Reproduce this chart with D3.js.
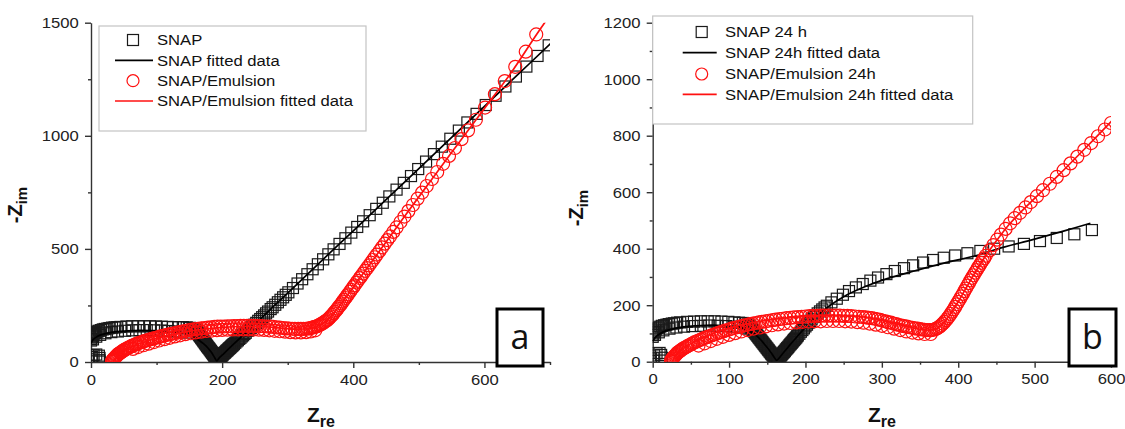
<!DOCTYPE html>
<html>
<head>
<meta charset="utf-8">
<script src="https://cdn.jsdelivr.net/npm/d3@7"></script>
<style>
  body { margin: 0; background: #fff; }
  svg { display: block; }
</style>
</head>
<body>
<div id="chart"></div>
<script>
// ---- data (Zre, -Zim) ----

// panel a
const snapA = [
  // small loop at the origin
  [1,3],[1,12],[2,22],[4,30],[8,33],[12,28],[13,18],[13,8],[13,2],
  // first arc
  [0,95],[0,102],[1,108],[2,114],[3,119],[4,124],[6,128],[8,132],[10,135],[12,138],
  [15,141],[18,144],[21,146],[25,148],[28,150],[32,152],[36,153],[40,154],[45,155],[54,157],
  [63,158],[72,158],[81,158],[90,158],[99,157],[108,156],[117,155],[125,154],[133,154],[140,154],
  [146,153],[151,151],[155,148],[158,144],
  [3,100],[8,112],[14,120],[22,127],[31,132],[41,135],[52,138],[63,140],[74,141],[85,141],
  [96,140],[107,139],[118,137],[128,135],[138,133],[147,130],
  // left arm of the V
  [160,139],[161,135],[162,131],[163,127],[164,123],[165,119],[166,115],[167,111],[168,107],[169,103],
  [170,99],[171,95],[172,91],[173,87],[174,83],[175,79],[176,75],[177,71],[178,67],[179,63],
  [180,60],[181,56],[182,52],[183,48],[184,44],[185,40],[186,36],[187,32],[188,28],[189,24],
  [190,20],[191,16],[192,12],[193,8],[194,4],[195,1],
  // right arm and diffusion tail
  [189,1],[190,3],[191,5],[192,8],[193,11],[194,14],[195,16],[196,19],[197,22],[198,25],
  [199,27],[200,30],[201,33],[202,36],[203,39],[204,41],[205,44],[206,47],[207,50],[208,52],
  [209,55],[210,58],[211,61],[212,63],[213,66],[214,69],[215,72],[216,74],[217,77],[218,80],
  [220,85],[222,91],[224,96],[226,102],[228,107],[230,113],[232,118],[234,124],[236,129],[239,138],
  [241,143],[244,151],[246,157],[249,165],[252,173],[255,182],[258,190],[261,198],[264,206],[267,215],
  [270,223],[274,234],[277,242],[281,253],[285,264],[289,275],[293,286],[297,297],[301,308],[308,327],
  [315,347],[322,366],[330,388],[338,410],[346,432],[354,454],[362,476],[370,498],[379,522],[388,547],
  [397,572],[406,597],[415,622],[425,649],[435,677],[445,704],[455,732],[466,762],[477,792],[488,822],
  [499,853],[511,886],[523,919],[535,952],[548,987],[561,1023],[574,1059],[588,1097],[602,1136],[617,1177],
  [632,1218],[648,1262],[664,1306],[681,1353],[698,1400],[715,1446]
];
const snapFitA = [
  [0,82],[3,98],[8,110],[15,120],[25,128],[38,134],[55,138],[75,140],[95,139],[112,137],
  [126,133],[138,127],[148,119],[157,108],[165,95],[172,80],[178,63],[183,45],[187,27],[190,12],
  [192,5],[195,16],[200,30],[215,72],[240,140],[270,223],[300,305],[350,443],[400,580],[450,718],
  [500,855],[550,993],[600,1130],[650,1268],[700,1405],[710,1433]
];
const emulA = [
  [32,0],[32,3],[33,6],[33,9],[34,12],[35,15],[36,18],[37,21],[38,24],[39,27],
  [40,30],[41,33],[42,36],[44,39],[45,42],[47,45],[48,48],[50,51],[51,54],[53,57],
  [55,60],[57,63],[59,66],[61,69],[63,72],[66,75],[68,78],[70,81],[73,84],[75,86],
  [78,89],[81,92],[84,95],[87,97],[90,100],[93,102],[96,105],[99,107],[103,110],[106,113],
  [110,116],[113,118],[117,121],[121,123],[125,126],[129,128],[133,131],[137,133],[141,136],[145,138],
  [150,141],[154,143],[159,145],[163,147],[168,149],[173,150],[178,152],[183,153],[188,155],[193,156],
  [198,157],[203,157],[208,158],[213,158],[218,159],[223,159],[228,160],[233,160],[238,160],[243,160],
  [248,160],[253,159],[258,159],[263,158],[268,157],[273,156],[278,155],[283,153],[288,152],[293,150],
  [298,149],[302,148],[307,147],[311,146],[316,146],[320,146],[324,146],[328,147],[331,148],[334,149],
  [336,151],[339,153],[341,155],[344,157],[346,160],[348,163],[350,166],[352,169],[354,173],[356,177],
  [358,181],[360,185],[362,190],[364,196],[366,202],[368,208],[370,215],[372,222],[374,229],[376,236],
  [378,244],[380,251],[382,259],[384,267],[386,275],[388,283],[390,291],[392,299],[395,311],[397,319],
  [400,331],[402,339],[405,351],[407,359],[410,371],[412,379],[415,391],[418,403],[421,415],[424,427],
  [427,439],[430,451],[433,463],[436,475],[440,491],[444,507],[448,523],[452,539],[456,555],[461,575],
  [466,595],[472,619],[478,643],[484,667],[491,694],[498,722],[505,749],[512,778],[520,809],[528,840],
  [537,876],[546,911],[555,946],[565,985],[575,1024],[587,1071],[601,1125],[616,1184],[631,1242],[647,1305],
  [663,1372],[679,1448],
  // lower row of the plateau
  [64,58],[72,66],[80,74],[88,81],[96,88],[104,95],[112,101],[120,107],[128,113],[136,118],
  [144,123],[152,127],[160,131],[168,134],[176,137],[184,139],[192,141],[200,142],[208,143],[216,144],
  [224,144],[232,144],[240,144],[248,144],[256,143],[264,142],[272,140],[280,138],[288,136],[296,134],
  [304,132],[312,131],[320,131],[328,132],[335,135],[342,140]
];
const emulFitA = [
  [34,0],[38,22],[44,40],[52,55],[62,68],[75,82],[90,96],[108,110],[128,124],[150,136],
  [175,146],[200,153],[230,157],[260,156],[290,150],[315,145],[330,147],[342,155],[352,168],[362,190],
  [375,233],[390,291],[400,331],[420,411],[440,491],[470,611],[500,730],[535,868],[565,985],[600,1121],
  [640,1276],[680,1450],[710,1575]
];

// panel b
const snapB = [
  [1,3],[1,12],[2,22],[5,30],[9,31],[11,24],[12,14],[12,4],
  [0,88],[0,94],[1,100],[2,105],[3,110],[4,114],[6,118],[8,121],[10,124],[12,127],
  [15,129],[18,131],[21,133],[25,135],[28,136],[32,138],[36,139],[45,141],[54,142],[63,143],
  [72,143],[81,143],[90,142],[99,141],[107,139],[113,138],[118,137],[122,136],[125,132],
  [3,95],[8,104],[14,111],[22,117],[31,121],[41,124],[52,126],[63,127],[74,128],[85,127],
  [96,126],[106,124],[115,121],[123,117],
  [127,127],[128,124],[129,120],[130,117],[131,113],[132,110],[133,106],[134,103],[135,99],[136,96],
  [137,92],[138,89],[139,85],[140,82],[141,78],[142,75],[143,71],[144,68],[145,64],[146,61],
  [147,57],[148,54],[149,50],[150,47],[151,43],[152,40],[153,36],[154,33],[155,29],[156,26],
  [157,22],[158,19],[159,15],[160,12],[161,8],[162,5],[163,1],
  [161,1],[162,3],[163,6],[164,10],[165,13],[166,16],[167,19],[168,22],[169,26],[170,29],
  [171,32],[172,35],[173,38],[174,42],[175,45],[176,48],[177,51],[178,54],[179,58],[180,61],
  [181,64],[182,67],[183,70],[184,74],[185,77],[186,80],[187,83],[188,86],[189,90],[190,93],
  [192,99],[194,106],[196,112],[198,118],[200,125],[202,131],[204,138],[206,144],[208,150],[211,158],
  [213,163],[216,171],[219,178],[222,185],[225,192],[228,198],[234,210],[241,223],[249,237],[257,250],
  [266,263],[275,275],[285,287],[295,298],[306,310],[317,321],[329,331],[341,341],[354,351],[367,360],
  [381,368],[396,376],[412,384],[429,392],[447,400],[466,408],[486,417],[507,427],[529,438],[552,451],
  [575,466]
];
const snapFitB = [
  [0,72],[4,88],[10,100],[18,110],[28,117],[40,123],[55,127],[70,129],[85,129],[100,127],
  [112,123],[122,115],[130,103],[137,90],[143,73],[149,53],[155,32],[159,16],[162,5],[164,8],
  [170,28],[178,54],[190,92],[202,128],[215,162],[230,195],[254,236],[280,268],[300,288],[341,320],
  [380,348],[424,376],[450,398],[500,434],[540,464],[573,490]
];
const emulB = [
  [24,0],[24,3],[25,6],[25,9],[26,12],[27,15],[28,18],[29,21],[30,24],[31,27],
  [32,30],[33,33],[35,36],[36,39],[38,42],[39,45],[41,48],[43,51],[45,54],[47,57],
  [49,60],[51,63],[53,66],[55,69],[58,72],[60,75],[63,78],[65,81],[68,84],[71,87],
  [74,90],[77,93],[80,96],[83,99],[86,102],[89,105],[93,108],[96,111],[100,114],[103,117],
  [107,120],[111,122],[115,125],[119,128],[123,130],[127,133],[131,135],[135,137],[139,139],[143,141],
  [148,143],[152,145],[157,147],[161,149],[166,151],[170,152],[175,154],[180,155],[185,157],[190,158],
  [195,159],[200,160],[205,161],[210,162],[215,162],[220,163],[225,163],[230,163],[235,163],[240,163],
  [245,163],[250,162],[255,162],[260,161],[265,160],[270,159],[275,158],[279,157],[283,155],[287,154],
  [291,152],[294,150],[298,148],[301,145],[305,143],[308,140],[312,138],[315,135],[319,133],[322,130],
  [326,128],[329,126],[333,124],[336,122],[340,120],[343,118],[347,117],[350,115],[353,114],[356,113],
  [359,112],[362,112],[365,112],[367,113],[370,115],[372,118],[374,121],[376,125],[378,130],[380,135],
  [382,141],[384,147],[386,154],[388,161],[390,169],[392,177],[394,185],[396,194],[398,203],[400,212],
  [402,221],[404,231],[406,240],[408,250],[410,259],[412,269],[414,278],[416,288],[418,297],[420,306],
  [422,315],[424,324],[426,333],[428,341],[430,350],[432,358],[434,366],[436,375],[441,394],[446,413],
  [451,432],[456,450],[462,470],[468,490],[474,508],[481,527],[488,546],[495,565],[503,586],[511,607],
  [520,630],[529,654],[538,678],[547,702],[556,726],[565,750],[574,774],[583,798],[592,822],[600,845],
  // lower row of the plateau
  [60,57],[68,65],[76,73],[84,81],[92,88],[100,95],[108,101],[116,107],[124,112],[132,117],
  [140,121],[148,125],[156,129],[164,132],[172,135],[180,137],[188,139],[196,141],[204,142],[212,143],
  [220,143],[228,144],[236,144],[244,144],[252,143],[260,142],[268,140],[276,138],[284,135],[292,131],
  [300,127],[308,122],[316,117],[324,112],[332,107],[340,103],[348,100],[356,98],[364,98]
];
const emulFitB = [
  [26,0],[30,22],[38,44],[50,64],[66,86],[85,107],[105,123],[130,138],[160,151],[190,159],
  [220,163],[250,162],[280,157],[300,146],[330,127],[350,115],[362,112],[372,118],[380,135],[390,170],
  [400,212],[412,269],[424,324],[436,375],[450,428],[468,490],[495,565],[529,654],[565,752],[601,852],
  [610,878]
];

// axes ticks
const xTicksA = [0, 200, 400, 600];
const xMinorA = [100, 300, 500, 700];
const yTicksA = [0, 500, 1000, 1500];
const yMinorA = [250, 750, 1250];
const xTicksB = [0, 100, 200, 300, 400, 500, 600];
const xMinorB = [50, 150, 250, 350, 450, 550];
const yTicksB = [0, 200, 400, 600, 800, 1000, 1200];
const yMinorB = [100, 300, 500, 700, 900, 1100];

// legend labels
const legendA = ["SNAP", "SNAP fitted data", "SNAP/Emulsion", "SNAP/Emulsion fitted data"];
const legendB = ["SNAP 24 h", "SNAP 24h fitted data", "SNAP/Emulsion 24h", "SNAP/Emulsion 24h fitted data"];

const FONT = '"Liberation Sans", Arial, sans-serif';
const SX = 1.11; // the source image is a little wider than tall

const panels = [
  {
    id: "a", xDomain: [0, 700], yDomain: [0, 1500],
    xTicks: xTicksA, xMinor: xMinorA, yTicks: yTicksA, yMinor: yMinorA,
    squares: snapA, squaresFit: snapFitA, circles: emulA, circlesFit: emulFitA, labels: legendA,
    x0: 91, x1: 550, yBot: 362, yTop: 22.7,
    legend: { x: 99, y: 26, w: 267, h: 105, lx0: 115, lx1: 153, sx: 133, tx: 157, rows: [40, 60.3, 80.7, 101] },
    tag: { x: 497, y: 309, w: 46, h: 57 },
    yTitle: [22, 205], xTitle: [321, 422]
  },
  {
    id: "b", xDomain: [0, 600], yDomain: [0, 1200],
    xTicks: xTicksB, xMinor: xMinorB, yTicks: yTicksB, yMinor: yMinorB,
    squares: snapB, squaresFit: snapFitB, circles: emulB, circlesFit: emulFitB, labels: legendB,
    x0: 652.7, x1: 1111, yBot: 361.7, yTop: 22.7,
    legend: { x: 652.7, y: 16, w: 320, h: 108, lx0: 682.7, lx1: 716.7, sx: 701.7, tx: 725, rows: [32, 52.7, 74, 94.3] },
    tag: { x: 1069, y: 309, w: 47, h: 57 },
    yTitle: [583, 208], xTitle: [882, 422]
  }
];

const svg = d3.select("#chart")
  .append("svg")
  .attr("width", 1125)
  .attr("height", 429)
  .attr("font-family", FONT);

svg.append("rect").attr("width", 1125).attr("height", 429).attr("fill", "#fff");

panels.forEach(p => {
  const x = d3.scaleLinear().domain(p.xDomain).range([p.x0, p.x1]);
  const y = d3.scaleLinear().domain(p.yDomain).range([p.yBot, p.yTop]);
  const g = svg.append("g").attr("class", "panel-" + p.id);

  // axes (major + minor ticks, outward)
  const styleAxis = sel => {
    sel.selectAll("path, line").attr("stroke", "#333").attr("stroke-width", 1.4);
    sel.selectAll("text")
      .attr("font-size", 15)
      .attr("font-family", FONT)
      .attr("fill", "#222")
      .attr("transform", `scale(${SX},1)`);
  };

  g.append("g")
    .attr("transform", `translate(0,${p.yBot})`)
    .call(d3.axisBottom(x).tickValues(p.xTicks).tickFormat(d3.format("d"))
      .tickSize(6).tickSizeOuter(0).tickPadding(6))
    .call(styleAxis);
  g.append("g")
    .attr("transform", `translate(0,${p.yBot})`)
    .call(d3.axisBottom(x).tickValues(p.xMinor).tickSize(3).tickFormat(""))
    .call(s => s.select(".domain").remove())
    .call(styleAxis);
  g.append("g")
    .attr("transform", `translate(${p.x0},0)`)
    .call(d3.axisLeft(y).tickValues(p.yTicks).tickFormat(d3.format("d"))
      .tickSize(6).tickSizeOuter(0).tickPadding(5))
    .call(styleAxis);
  g.append("g")
    .attr("transform", `translate(${p.x0},0)`)
    .call(d3.axisLeft(y).tickValues(p.yMinor).tickSize(3).tickFormat(""))
    .call(s => s.select(".domain").remove())
    .call(styleAxis);

  // axis titles
  const yt = g.append("text")
    .attr("transform", `translate(${p.yTitle[0]},${p.yTitle[1]}) rotate(-90)`)
    .attr("text-anchor", "middle")
    .attr("font-weight", "bold")
    .attr("font-size", 20)
    .attr("fill", "#111");
  yt.append("tspan").text("-Z");
  yt.append("tspan").attr("dy", 5).attr("font-size", 15).text("im");

  const xt = g.append("text")
    .attr("x", p.xTitle[0])
    .attr("y", p.xTitle[1])
    .attr("text-anchor", "middle")
    .attr("font-weight", "bold")
    .attr("font-size", 21)
    .attr("fill", "#111");
  xt.append("tspan").text("Z");
  xt.append("tspan").attr("dy", 5).attr("font-size", 16).text("re");

  // data, clipped to the plot area
  svg.append("clipPath").attr("id", "clip-" + p.id)
    .append("rect")
    .attr("x", p.x0).attr("y", p.yTop)
    .attr("width", p.x1 - p.x0).attr("height", p.yBot - p.yTop);

  const plot = g.append("g").attr("clip-path", `url(#clip-${p.id})`);
  const line = d3.line()
    .x(d => x(d[0]))
    .y(d => y(d[1]))
    .curve(d3.curveCatmullRom.alpha(0.5));

  plot.append("g").selectAll("rect")
    .data(p.squares)
    .join("rect")
    .attr("x", d => x(d[0]) - 5.5)
    .attr("y", d => y(d[1]) - 5.5)
    .attr("width", 11)
    .attr("height", 11)
    .attr("fill", "none")
    .attr("stroke", "#1a1a1a")
    .attr("stroke-width", 1.2);

  plot.append("path")
    .datum(p.squaresFit)
    .attr("d", line)
    .attr("fill", "none")
    .attr("stroke", "#000")
    .attr("stroke-width", 1.7);

  plot.append("g").selectAll("circle")
    .data(p.circles)
    .join("circle")
    .attr("cx", d => x(d[0]))
    .attr("cy", d => y(d[1]))
    .attr("r", 6.5)
    .attr("fill", "none")
    .attr("stroke", "#ff1010")
    .attr("stroke-width", 1.2);

  plot.append("path")
    .datum(p.circlesFit)
    .attr("d", line)
    .attr("fill", "none")
    .attr("stroke", "#ff1010")
    .attr("stroke-width", 1.7);

  // legend
  const L = p.legend;
  const lg = g.append("g");
  lg.append("rect")
    .attr("x", L.x).attr("y", L.y)
    .attr("width", L.w).attr("height", L.h)
    .attr("fill", "#fff")
    .attr("stroke", "#c4c4c4")
    .attr("stroke-width", 1.2);

  lg.append("rect")
    .attr("x", L.sx - 5.5).attr("y", L.rows[0] - 5.5)
    .attr("width", 11).attr("height", 11)
    .attr("fill", "none").attr("stroke", "#1a1a1a").attr("stroke-width", 1.2);
  lg.append("line")
    .attr("x1", L.lx0).attr("x2", L.lx1)
    .attr("y1", L.rows[1]).attr("y2", L.rows[1])
    .attr("stroke", "#000").attr("stroke-width", 1.7);
  lg.append("circle")
    .attr("cx", L.sx).attr("cy", L.rows[2]).attr("r", 6)
    .attr("fill", "none").attr("stroke", "#ff1010").attr("stroke-width", 1.2);
  lg.append("line")
    .attr("x1", L.lx0).attr("x2", L.lx1)
    .attr("y1", L.rows[3]).attr("y2", L.rows[3])
    .attr("stroke", "#ff1010").attr("stroke-width", 1.7);

  lg.selectAll("g.item")
    .data(p.labels)
    .join("g")
    .attr("class", "item")
    .attr("transform", (d, i) => `translate(${L.tx},${L.rows[i]})`)
    .append("text")
    .attr("transform", `scale(${SX},1)`)
    .attr("dy", "0.36em")
    .attr("font-size", 15)
    .attr("fill", "#111")
    .text(d => d);

  // panel tag box
  g.append("rect")
    .attr("x", p.tag.x).attr("y", p.tag.y)
    .attr("width", p.tag.w).attr("height", p.tag.h)
    .attr("fill", "#fff")
    .attr("stroke", "#000")
    .attr("stroke-width", 3);
  g.append("text")
    .attr("x", p.tag.x + p.tag.w / 2)
    .attr("y", 349)
    .attr("text-anchor", "middle")
    .attr("font-family", '"Open Sans", "Noto Sans", sans-serif')
    .attr("font-size", 34)
    .attr("fill", "#111")
    .text(p.id);
});
</script>
</body>
</html>
